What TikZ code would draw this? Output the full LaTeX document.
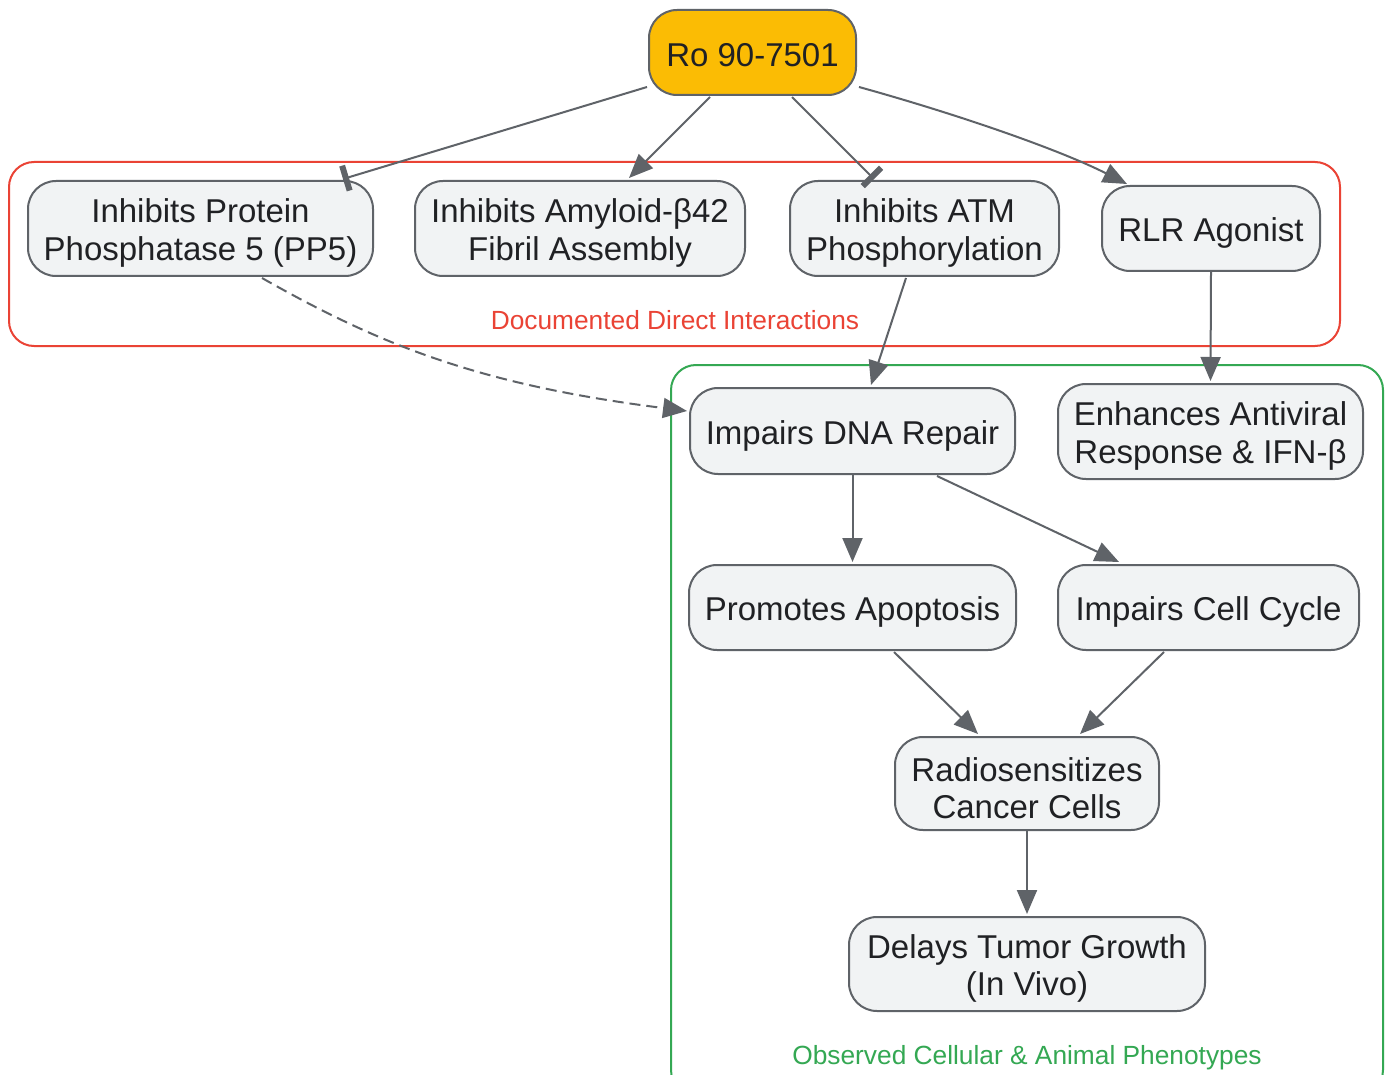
\documentclass[tikz,border=0pt]{standalone}
\usepackage{fontspec}
\setmainfont{Liberation Sans}
\usetikzlibrary{arrows.meta,calc}
\definecolor{edgegray}{HTML}{5F6368}
\definecolor{boxfill}{HTML}{F1F3F4}
\definecolor{txt}{HTML}{202124}
\definecolor{gred}{HTML}{EA4335}
\definecolor{ggreen}{HTML}{34A853}
\definecolor{gyellow}{HTML}{FBBC04}
\tikzset{
  box/.style={draw=edgegray, line width=2pt, fill=boxfill, rounded corners=28pt,
    inner sep=0pt},
  btext/.style={align=center, inner sep=0pt, text=txt, yshift=-4.5pt,
    font=\fontsize{33}{37.5}\selectfont},
  topbox/.style={box, fill=gyellow},
  cluster/.style={line width=2pt, rounded corners=25pt},
  clabel/.style={font=\fontsize{26.3}{30}\selectfont, inner sep=0pt},
  act/.style={draw=edgegray, line width=2pt, -{Triangle[length=24pt,width=20pt]}},
  inh/.style={draw=edgegray, line width=2pt, -{Bar[width=26pt,line width=6pt]}},
}
\begin{document}
\begin{tikzpicture}[x=1pt,y=-1pt]
\useasboundingbox (0,0) rectangle (1389,1075);
\clip (0,0) rectangle (1389,1075);
\fill[white] (0,0) rectangle (1389,1075);
% clusters
\draw[cluster, draw=gred] (9,162) rectangle (1340,346);
\draw[cluster, draw=ggreen] (671,365) rectangle (1383,1095);
\node[clabel, text=gred] (lab1) at (675,320) {Documented Direct Interactions};
\node[clabel, text=ggreen] (lab2) at (1027,1058) {Observed Cellular \& Animal Phenotypes};
% nodes
\node[topbox, minimum width=207pt, minimum height=85pt, label={[btext, yshift=2pt]center:{Ro 90-7501}}] (ro) at (752.5,52.5) {};
\node[box, minimum width=345pt, minimum height=95pt, label={[btext]center:{Inhibits Protein\\Phosphatase 5 (PP5)}}] (pp5) at (200.5,228.5) {};
\node[box, minimum width=330pt, minimum height=95pt, label={[btext]center:{Inhibits Amyloid-β42\\Fibril Assembly}}] (amy) at (580,228.5) {};
\node[box, minimum width=269pt, minimum height=95pt, label={[btext]center:{Inhibits ATM\\Phosphorylation}}] (atm) at (924.5,228.5) {};
\node[box, minimum width=218pt, minimum height=85pt, label={[btext]center:{RLR Agonist}}] (rlr) at (1211,228.5) {};
\node[box, minimum width=325pt, minimum height=86pt, label={[btext]center:{Impairs DNA Repair}}] (dna) at (852.5,431) {};
\node[box, minimum width=305pt, minimum height=95pt, label={[btext]center:{Enhances Antiviral\\Response \& IFN-β}}] (anti) at (1210.5,431.5) {};
\node[box, minimum width=327pt, minimum height=85pt, label={[btext]center:{Promotes Apoptosis}}] (apo) at (852.5,607.5) {};
\node[box, minimum width=301pt, minimum height=85pt, label={[btext]center:{Impairs Cell Cycle}}] (cyc) at (1208.5,607.5) {};
\node[box, minimum width=264pt, minimum height=93pt, label={[btext]center:{Radiosensitizes\\Cancer Cells}}] (rad) at (1027,783.5) {};
\node[box, minimum width=356pt, minimum height=94pt, label={[btext]center:{Delays Tumor Growth\\(In Vivo)}}] (del) at (1027,964) {};
% edges
\draw[inh] ($(ro.south west)+(-1,-9)$) -- ($(pp5.north east)+(-31,-1)$);
\draw[act] ($(ro.south west)+(62,1)$) -- ($(amy.north east)+(-117,-2)$);
\draw[inh] ($(ro.south west)+(144,1)$) -- ($(atm.north west)+(85,-1)$);
\draw[act] ($(ro.south east)+(2,-9)$) .. controls (960,115) and (1060,150) .. ($(rlr.north west)+(26,-1)$);
\draw[act, dashed, dash pattern=on 11pt off 6pt] ($(pp5.south west)+(235,1)$) .. controls (380,345) and (480,385) .. ($(dna.west)+(-2,-20)$);
\draw[act] ($(atm.south west)+(117,1)$) -- ($(dna.north west)+(182,-2)$);
\draw[act] (rlr.south) -- ($(anti.north)+(0,-2)$);
\draw[act] (dna.south) -- ($(apo.north)+(0,-2)$);
\draw[act] ($(dna.south west)+(248,1)$) -- ($(cyc.north west)+(62,-2)$);
\draw[act] ($(apo.south west)+(206,1)$) -- ($(rad.north west)+(84,-2)$);
\draw[act] ($(cyc.south west)+(107,1)$) -- ($(rad.north east)+(-80,-2)$);
\draw[act] (rad.south) -- ($(del.north)+(0,-2)$);
\end{tikzpicture}
\end{document}
